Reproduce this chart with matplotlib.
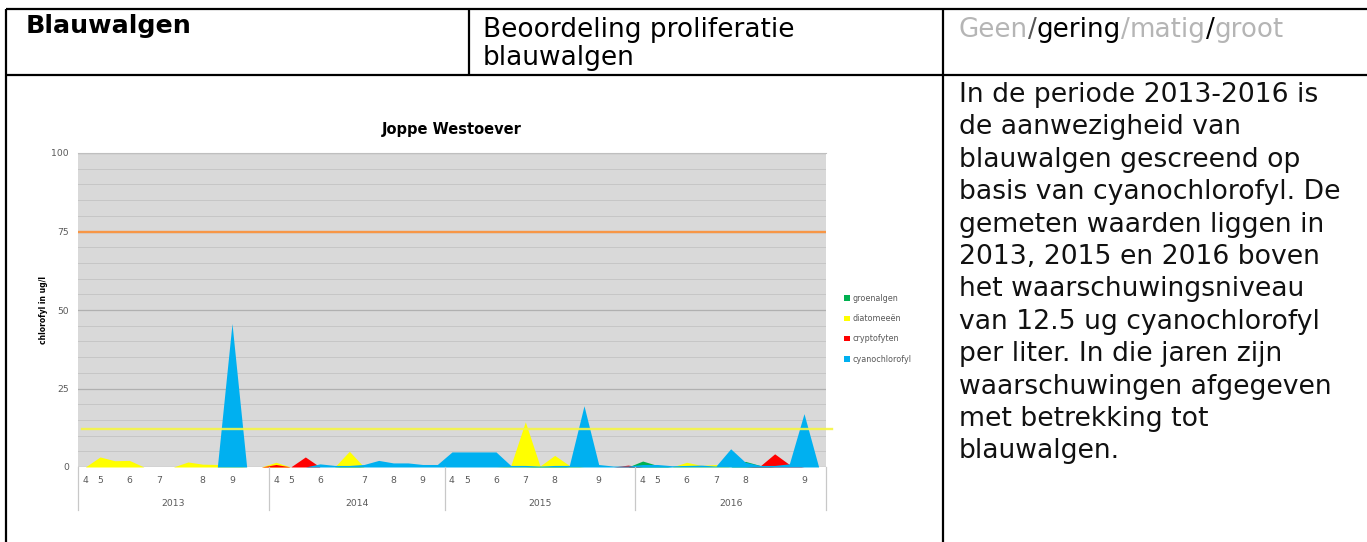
import numpy as np
import matplotlib
matplotlib.use("Agg")
import matplotlib.pyplot as plt
import matplotlib.transforms as mtransforms

plt.rcParams['font.family'] = ['DejaVu Sans']

# ================================
# Data (uit de grafiek afgelezen)
# ================================
jaren = ["2013", "2014", "2015", "2016"]
n_per_jaar = [13, 12, 13, 13]

maand_2013 = ["4", "5", "", "6", "", "7", "", "", "8", "", "9", "", ""]
maand_2014 = ["4", "5", "", "6", "", "", "7", "", "8", "", "9", ""]
maand_2015 = ["4", "5", "", "6", "", "7", "", "8", "", "", "9", "", ""]
maand_2016 = ["4", "5", "", "6", "", "7", "", "8", "", "", "", "9", ""]

groenalgen = [0, 0, 0, 0, 0, 0, 0, 0, 0, 0, 0, 0, 0,
              0, 0, 0, 0, 0, 0.5, 0, 0, 0, 0, 0, 0,
              0, 0, 0, 0, 0, 0, 0.3, 0.6, 0, 0, 0, 0, 0,
              1.9, 0.5, 0, 0, 0, 0, 0, 1.8, 0.5, 0, 0, 0, 0]
diatomeeen = [0, 3.2, 2.0, 2.1, 0, 0, 0, 1.6, 0.9, 0.8, 0.5, 0, 0,
              1.5, 0, 0, 0, 0, 5.0, 0, 0, 0, 0, 0, 0,
              0, 0, 0, 0, 0.3, 14.4, 0.3, 3.7, 0.5, 0, 0, 0, 0,
              0, 0, 0, 1.5, 0.5, 0.8, 0, 0, 0, 0, 0, 0, 0]
cryptofyten = [0, 0, 0, 0, 0, 0, 0, 0, 0, 0, 0, 0, 0,
               0.8, 0, 3.2, 0, 0, 0, 0, 0, 0, 0, 0, 0,
               0, 0, 0, 0, 0, 0, 0, 0, 0, 0, 0, 0, 0.6,
               0, 0, 0, 0, 0, 0, 0, 0, 0.3, 4.2, 0.8, 0, 0]
cyanochlorofyl = [0, 0, 0, 0, 0, 0, 0, 0, 0, 0, 45.7, 0, 0,
                  0, 0, 0, 1.0, 0.5, 0.5, 0.8, 2.1, 1.3, 1.3, 0.8, 0.8,
                  4.8, 4.8, 4.8, 4.8, 0.5, 0.5, 0.3, 0.5, 0.5, 19.5, 0.8, 0.3, 0.3,
                  0.8, 0.8, 0.4, 0.5, 0.6, 0.3, 5.8, 1.5, 0.5, 0.5, 1.0, 17.0, 0]

grens_oranje = 75
grens_geel = 12

reeksen = ["groenalgen", "diatomeeën", "cryptofyten", "cyanochlorofyl"]
kleuren = ["#00b050", "#ffff00", "#ff0000", "#00b0f0"]

tekst_rechts = [
    "In de periode 2013-2016 is",
    "de aanwezigheid van",
    "blauwalgen gescreend op",
    "basis van cyanochlorofyl. De",
    "gemeten waarden liggen in",
    "2013, 2015 en 2016 boven",
    "het waarschuwingsniveau",
    "van 12.5 ug cyanochlorofyl",
    "per liter. In die jaren zijn",
    "waarschuwingen afgegeven",
    "met betrekking tot",
    "blauwalgen.",
]

# ================================
# Figuur + tabel
# ================================
W, H = 1367, 542
fig = plt.figure(figsize=(W / 100, H / 100), dpi=100)

bg = fig.add_axes([0, 0, 1, 1])
bg.set_xlim(0, W)
bg.set_ylim(H, 0)
bg.axis("off")

lijn = dict(color="black", lw=1.6, solid_capstyle="butt")
bg.plot([6, W], [9, 9], **lijn)
bg.plot([6, W], [75, 75], **lijn)
bg.plot([6, 6], [9, H], **lijn)
bg.plot([469, 469], [9, 75], **lijn)
bg.plot([943, 943], [9, H], **lijn)

bg.text(26, 33, "Blauwalgen", fontsize=18.3, fontweight="bold", va="baseline")
bg.text(483, 37, "Beoordeling proliferatie", fontsize=19, va="baseline")
bg.text(483, 65, "blauwalgen", fontsize=19, va="baseline")

# Geen/gering/matig/groot met verschillende kleuren
stukken = [("Geen", "#b5b5b5"), ("/", "#555555"), ("gering", "black"),
           ("/", "#b5b5b5"), ("matig", "#b5b5b5"), ("/", "black"), ("groot", "#b5b5b5")]
vorige = bg.text(959, 37, stukken[0][0], fontsize=18.8, color=stukken[0][1], va="baseline")
for woord, kleur in stukken[1:]:
    vorige = bg.annotate(woord, xy=(1, 0), xycoords=vorige, ha="left", va="bottom",
                         fontsize=18.8, color=kleur)

for i, regel in enumerate(tekst_rechts):
    bg.text(959, 102 + i * 32.4, regel, fontsize=19.2, va="baseline", color="#111111")

# ================================
# Grafiek
# ================================
ax = fig.add_axes([78 / W, (H - 467) / H, 748 / W, 314 / H])
x = np.arange(sum(n_per_jaar))

waarden = [groenalgen, diatomeeen, cryptofyten, cyanochlorofyl]
for naam, vals, kleur in zip(reeksen, waarden, kleuren):
    ax.fill_between(x, 0, vals, color=kleur, lw=0, label=naam, zorder=2)

ax.axhline(grens_oranje, color="#f79646", lw=1.7, zorder=3)
ax.axhline(grens_geel, xmin=0.005, xmax=1.008, color="#f5f542", lw=1.7,
           alpha=0.9, zorder=3, clip_on=False)

ax.set_xlim(-0.5, len(x) - 0.5)
ax.set_ylim(0, 100)
ax.set_facecolor("#d9d9d9")

ax.set_yticks([0, 25, 50, 75, 100])
ax.set_yticks(np.arange(0, 101, 5), minor=True)
ax.grid(which="minor", axis="y", color="#c6c6c6", lw=0.7)
ax.grid(which="major", axis="y", color="#b0b0b0", lw=0.9)
ax.set_axisbelow(True)
ax.tick_params(axis="y", which="both", length=0, labelsize=6.7, labelcolor="#595959", pad=6.5)

maanden = maand_2013 + maand_2014 + maand_2015 + maand_2016
pos = [i for i, m in enumerate(maanden) if m]
ax.set_xticks(pos)
ax.set_xticklabels([maanden[i] for i in pos])
ax.tick_params(axis="x", length=0, labelsize=6.7, labelcolor="#595959", pad=6.5)

for s in ax.spines.values():
    s.set_visible(False)
ax.spines["top"].set_visible(True)
ax.spines["top"].set_color("#bfbfbf")

# jaartallen + scheidingslijnen
trans = mtransforms.blended_transform_factory(ax.transData, ax.transAxes)
grenzen = np.concatenate([[0], np.cumsum(n_per_jaar)]) - 0.5
for g in grenzen:
    ax.plot([g, g], [0, -43 / 314], transform=trans, color="#c8c8c8", lw=0.9, clip_on=False)
for j, jaar in enumerate(jaren):
    ax.text((grenzen[j] + grenzen[j + 1]) / 2, -36 / 314, jaar, transform=trans,
            ha="center", va="center", fontsize=6.7, color="#595959")

ax.set_title("Joppe Westoever", fontsize=10.5, fontweight="bold", pad=14)
ax.text(-35 / 748, 0.5, "chlorofyl in ug/l", transform=ax.transAxes, rotation=90,
        ha="center", va="center", fontsize=5.5, fontweight="bold")

ax.legend(loc="center left", bbox_to_anchor=(1.015, 0.44), frameon=False,
          fontsize=5.8, labelcolor="#595959", handlelength=0.7, handleheight=0.7,
          handletextpad=0.3, labelspacing=1.4)

fig.savefig("out.png", dpi=100)
